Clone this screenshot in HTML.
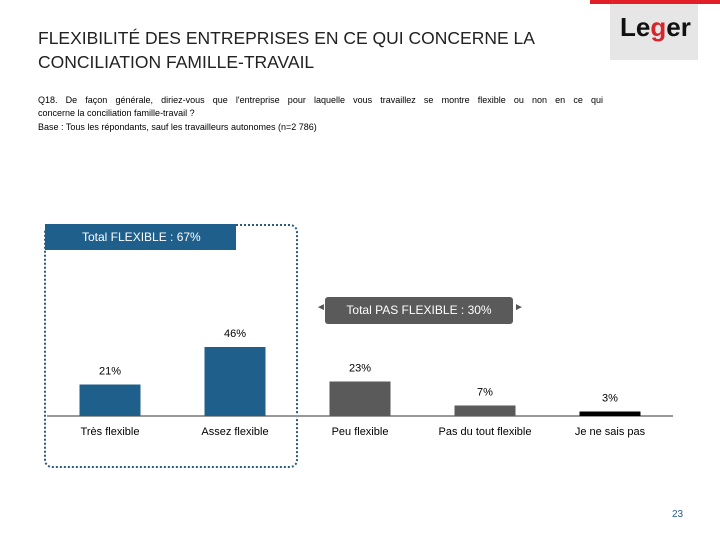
<!DOCTYPE html>
<html><head><meta charset="utf-8">
<style>
body{margin:0;width:720px;height:540px;background:#fff;font-family:"Liberation Sans",sans-serif;overflow:hidden;position:relative}
.t{position:absolute;color:#000}
</style></head>
<body>
<div class="t" style="left:38px;top:26px;font-size:17.5px;line-height:24px;color:#222">FLEXIBILITÉ DES ENTREPRISES EN CE QUI CONCERNE LA<br>CONCILIATION FAMILLE-TRAVAIL</div>
<div style="position:absolute;left:610px;top:0;width:88px;height:60px;background:#e6e6e6">
<div style="position:absolute;left:-20px;top:0;width:130px;height:4px;background:#e21f26"></div>
<div style="position:absolute;left:10px;top:12px;font-size:26px;font-weight:bold;color:#111">Le<span style="color:#d6252b">g</span>er</div></div>
<div class="t" style="left:38px;top:94px;width:565px;font-size:9px;line-height:13px">
<div style="text-align:justify;text-align-last:justify">Q18. De façon générale, diriez-vous que l'entreprise pour laquelle vous travaillez se montre flexible ou non en ce qui</div>
<div>concerne la conciliation famille-travail ?</div></div>
<div class="t" style="left:38px;top:122px;font-size:9px">Base : Tous les répondants, sauf les travailleurs autonomes (n=2 786)</div>
<div style="position:absolute;left:44px;top:224px;width:250px;height:240px;border:2px dotted #2a5a80;border-radius:8px"></div>
<div style="position:absolute;left:45px;top:224px;width:191px;height:26px;background:#1f5f8b;color:#fff;font-size:12px;line-height:26px;padding-left:37px;box-sizing:border-box">Total FLEXIBLE : 67%</div>
<div class="t" style="left:316px;top:302px;font-size:10px;color:#555">◄</div>
<div style="position:absolute;left:325px;top:297px;width:188px;height:27px;background:#5a5a5a;border-radius:3px;color:#fff;font-size:12px;line-height:27px;text-align:center">Total PAS FLEXIBLE : 30%</div>
<div class="t" style="left:514px;top:302px;font-size:10px;color:#555">►</div>
<svg id="chart" width="720" height="540" style="position:absolute;left:0;top:0"></svg>
<div class="t" style="left:672px;top:509px;font-size:10px;color:#1f5f8b">23</div>
<script>
const categories=["Très flexible","Assez flexible","Peu flexible","Pas du tout flexible","Je ne sais pas"];
const values=[21,46,23,7,3];
const colors=["#1f5f8b","#1f5f8b","#5a5a5a","#5a5a5a","#000000"];
const svg=document.getElementById('chart');
const NS='http://www.w3.org/2000/svg';
const base=416, scale=1.5, x0=110, step=125, bw=61;
function xc(i){return x0+i*step;}
function y(v){return base-v*scale;}
const ax=document.createElementNS(NS,'line');


ax.setAttribute('x1',47);ax.setAttribute('x2',673);ax.setAttribute('y1',base);ax.setAttribute('y2',base);
ax.setAttribute('stroke','#999');ax.setAttribute('stroke-width','2');svg.appendChild(ax);
values.forEach((v,i)=>{
 const r=document.createElementNS(NS,'rect');
 
 
 r.setAttribute('x',xc(i)-bw/2);r.setAttribute('y',y(v));r.setAttribute('width',bw);r.setAttribute('height',v*scale);r.setAttribute('fill',colors[i]);
 svg.appendChild(r);
 const t=document.createElementNS(NS,'text');
 
 
 t.setAttribute('x',xc(i));t.setAttribute('y',y(v)-10);t.setAttribute('text-anchor','middle');t.setAttribute('font-size','11');t.setAttribute('font-family','Liberation Sans, sans-serif');
 t.textContent=v+'%';svg.appendChild(t);
 const c=document.createElementNS(NS,'text');
 
 
 c.setAttribute('x',xc(i));c.setAttribute('y',435);c.setAttribute('text-anchor','middle');c.setAttribute('font-size','11');c.setAttribute('font-family','Liberation Sans, sans-serif');
 c.textContent=categories[i];svg.appendChild(c);
});
</script>
</body></html>
